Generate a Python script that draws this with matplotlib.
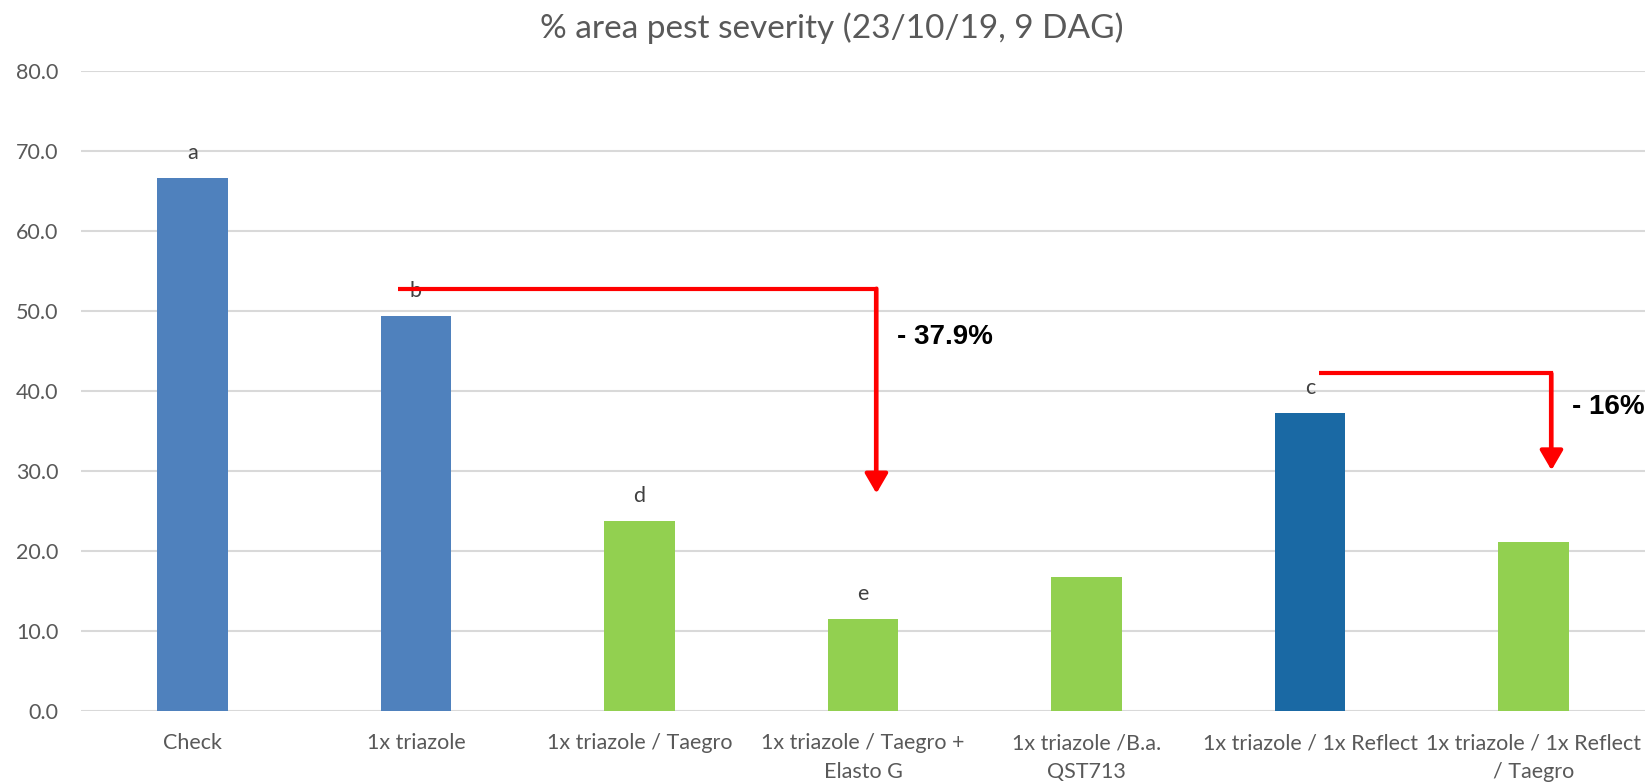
import matplotlib
matplotlib.use("Agg")
import matplotlib.pyplot as plt

categories = ["Check", "1x triazole", "1x triazole / Taegro", "1x triazole / Taegro +\nElasto G",
              "1x triazole /B.a.\nQST713", "1x triazole / 1x Reflect", "1x triazole / 1x Reflect\n/ Taegro"]
values = [66.6, 49.4, 23.8, 11.5, 16.7, 37.2, 21.1]
letters = ["a", "b", "d", "e", "", "c", ""]
colors = ["#4F81BD", "#4F81BD", "#92D050", "#92D050", "#92D050", "#1A69A4", "#92D050"]
yticks = [0, 10, 20, 30, 40, 50, 60, 70, 80]

# reduction arrows: (x_start, x_end, y_level, y_tip, label, label_x, label_y)
arrow1 = dict(x0=0.92, x1=3.06, y=52.8, tip=27.2, label="- 37.9%", lx=3.15, ly=46.8)
arrow2 = dict(x0=5.04, x1=6.08, y=42.2, tip=30.1, label="- 16%", lx=6.17, ly=38.0)

plt.rcParams['font.family'] = ['Lato', 'DejaVu Sans']
fig = plt.figure(figsize=(16.47, 7.84), dpi=100)
ax = fig.add_axes([0.049, 0.0931, 0.950, 0.8163])

x = list(range(len(categories)))
ax.bar(x, values, width=0.314, color=colors, zorder=3)
for xi, v, l in zip(x, values, letters):
    if l:
        ax.annotate(l, (xi, v), xytext=(0, 18), textcoords="offset points",
                    ha="center", va="center", fontsize=15.5, color="#404040", zorder=4)

ax.set_xlim(-0.5, 6.5)
ax.set_ylim(0, 80)
ax.set_yticks(yticks)
ax.set_yticklabels([f"{t:.1f}" for t in yticks])
ax.set_xticks(x)
ax.set_xticklabels(categories, linespacing=1.55)
ax.tick_params(axis="both", length=0, labelsize=15.5, labelcolor="#595959")
ax.tick_params(axis="x", pad=16)
ax.tick_params(axis="y", pad=16)
ax.grid(axis="y", color="#D9D9D9", linewidth=1.5, zorder=0)
for s in ax.spines.values():
    s.set_visible(False)

for a in (arrow1, arrow2):
    ax.plot([a["x0"], a["x1"], a["x1"]], [a["y"], a["y"], a["tip"] + 1.5], color="red",
            linewidth=3, solid_joinstyle="miter", solid_capstyle="butt", zorder=5, clip_on=False)
    ax.annotate("", xy=(a["x1"], a["tip"]), xytext=(a["x1"], a["y"]),
                arrowprops=dict(arrowstyle="-|>,head_length=0.6,head_width=0.35", color="red",
                                lw=3, mutation_scale=20, shrinkA=0, shrinkB=0), zorder=5)
    ax.text(a["lx"], a["ly"], a["label"], fontsize=20, fontweight="bold", family="Liberation Sans",
            ha="left", va="center", color="black", clip_on=False, zorder=6)

fig.text(0.505, 0.964, "% area pest severity (23/10/19, 9 DAG)", ha="center", va="center",
         fontsize=24, color="#595959")

fig.savefig("out.png", dpi=100)
